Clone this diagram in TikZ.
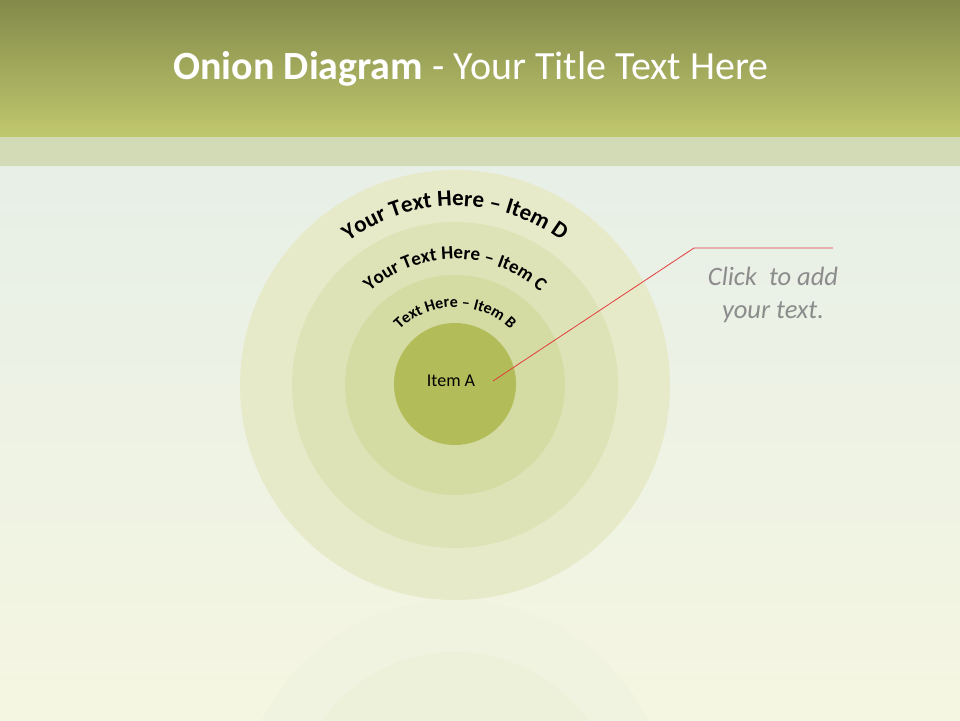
\documentclass[tikz,border=0pt]{standalone}
\usepackage{fontspec}
\setmainfont{Carlito}
\usetikzlibrary{decorations.text}
\definecolor{hdrtop}{RGB}{131,138,74}
\definecolor{hdrbot}{RGB}{192,200,110}
\definecolor{band}{RGB}{211,219,182}
\definecolor{bgtop}{RGB}{231,239,231}
\definecolor{bgbot}{RGB}{245,246,225}
\definecolor{ringD}{RGB}{231,234,201}
\definecolor{ringC}{RGB}{222,227,183}
\definecolor{ringB}{RGB}{212,219,163}
\definecolor{coreA}{RGB}{178,189,90}
\definecolor{reflA}{RGB}{240,243,223}
\definecolor{reflB}{RGB}{238,241,217}
\definecolor{callout}{RGB}{226,60,60}
\definecolor{grayt}{RGB}{140,140,140}
\tikzset{
  ring/.style={circle, inner sep=0pt, draw=none},
  arctext/.style={decorate, decoration={text along path, text align=center, text color=black, text={#1}}},
}
\begin{document}
\begin{tikzpicture}[x=1pt,y=1pt]
\useasboundingbox (0,0) rectangle (960,720);
% background
\shade[top color=bgtop, bottom color=bgbot] (0,0) rectangle (960,554);
\fill[band] (0,554) rectangle (960,583);
\shade[top color=hdrtop, bottom color=hdrbot] (0,583) rectangle (960,720);
% title
\node[anchor=base, text=white, font=\fontsize{40}{44}\selectfont] (title) at (471,640) {\textbf{Onion Diagram} - Your Title Text Here};
% reflection
\fill[reflA] (455,-95) circle[radius=215];
\fill[reflB] (455,-95) circle[radius=163];
% onion
\node[ring, fill=ringD, minimum size=430pt] (D) at (455,335) {};
\node[ring, fill=ringC, minimum size=326pt] (C) at (455,335) {};
\node[ring, fill=ringB, minimum size=220pt] (B) at (455,335) {};
\node[ring, fill=coreA, minimum size=122pt] (A) at (455,336) {};
\node[font=\fontsize{18}{20}\selectfont, anchor=base] (atext) at (451,333) {Item A};
% curved labels
\path[arctext={|\bfseries\fontsize{23}{26}\selectfont|Your Text Here – Item D}]
  (455,335) ++(168:179) arc[start angle=168, end angle=12, radius=179];
\path[arctext={|\bfseries\fontsize{19}{22}\selectfont|Your Text Here – Item C}]
  (455,335) ++(170:126) arc[start angle=170, end angle=10, radius=126];
\path[arctext={|\bfseries\fontsize{16}{18}\selectfont|Text Here – Item B}]
  (455,335) ++(178:78) arc[start angle=178, end angle=2, radius=78];
% callout
\coordinate (c1) at (493,339);
\coordinate (c2) at (694,472);
\coordinate (c3) at (833,472);
\draw[callout, line width=0.8pt] (c1) -- (c2) -- (c3);
\node[text=grayt, font=\itshape\fontsize{26.5}{33}\selectfont, align=center] (click) at (773,425) {Click\ \ to add\\your text.};
\end{tikzpicture}
\end{document}
